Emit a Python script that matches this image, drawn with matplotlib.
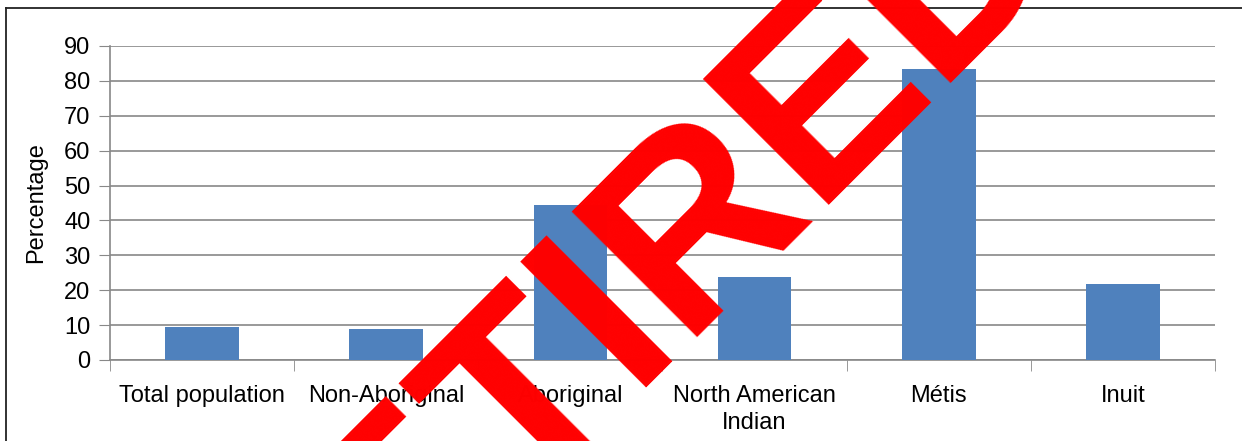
import matplotlib.pyplot as plt
from matplotlib.lines import Line2D

# chart data
categories = ["Total population", "Non-Aboriginal", "Aboriginal",
              "North American\nIndian", "Métis", "Inuit"]
percentages = [9.5, 8.9, 44.4, 23.9, 83.4, 21.8]
y_ticks = [0, 10, 20, 30, 40, 50, 60, 70, 80, 90]

plt.rcParams['font.family'] = ['Liberation Sans', 'DejaVu Sans']

fig = plt.figure(figsize=(12.42, 4.41), dpi=100)
ax = fig.add_axes([110 / 1242, 81 / 441, 1105 / 1242, 314 / 441])

x = list(range(len(categories)))
ax.bar(x, percentages, width=0.4, color='#4F81BD', zorder=3)

ax.set_xlim(-0.5, len(categories) - 0.5)
ax.set_ylim(0, 90)
ax.set_yticks(y_ticks)
ax.tick_params(axis='y', labelsize=17, length=8, color='#888888', pad=6)
ax.yaxis.grid(True, color='#888888', linewidth=1.2, zorder=0)

# category labels centred, ticks on the boundaries
ax.set_xticks(x)
ax.set_xticklabels(categories, fontsize=17, linespacing=1.3)
ax.tick_params(axis='x', length=0, pad=18)
ax.set_xticks([i - 0.5 for i in range(len(categories) + 1)], minor=True)
ax.tick_params(axis='x', which='minor', length=8, color='#888888', direction='out')

ax.set_ylabel("Percentage", fontsize=17, labelpad=12)

for side in ['top', 'right']:
    ax.spines[side].set_visible(False)
for side in ['left', 'bottom']:
    ax.spines[side].set_color('#888888')
    ax.spines[side].set_linewidth(1.2)

# outer frame (top and left only are visible in the image)
fig.add_artist(Line2D([6 / 1242, 1.0], [1 - 8 / 441, 1 - 8 / 441],
                      transform=fig.transFigure, color='#222222', linewidth=1.3))
fig.add_artist(Line2D([6 / 1242, 6 / 1242], [0, 1 - 8 / 441],
                      transform=fig.transFigure, color='#222222', linewidth=1.3))

# watermark
fig.text(618 / 1242, 1 - 304 / 441, "RETIRED", rotation=45, fontsize=186,
         fontweight='bold', color='#FF0000', ha='center', va='center',
         rotation_mode='anchor', zorder=10)

fig.savefig("out.png", dpi=100)
